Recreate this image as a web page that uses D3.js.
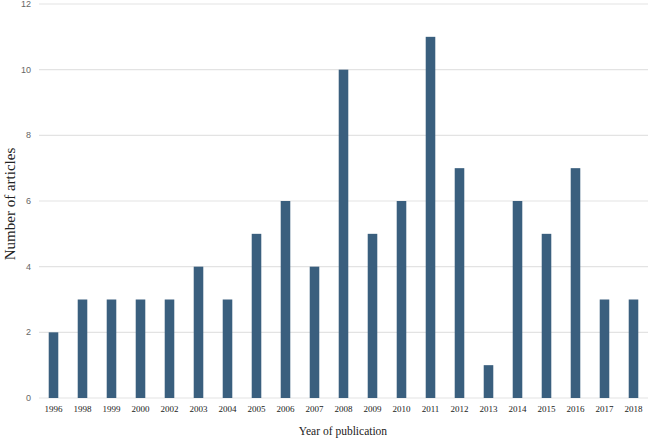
<!DOCTYPE html>
<html><head><meta charset="utf-8">
<script src="https://d3js.org/d3.v7.min.js"></script>
<style>body{margin:0;background:#fff}svg{display:block}</style>
</head><body>
<script>
const years = ["1996","1998","1999","2000","2002","2003","2004","2005","2006","2007","2008","2009","2010","2011","2012","2013","2014","2015","2016","2017","2018"];
const articles = [2,3,3,3,3,4,3,5,6,4,10,5,6,11,7,1,6,5,7,3,3];
const yTicks = [0,2,4,6,8,10,12];

const W = 650, H = 439;
const svg = d3.select("body").append("svg").attr("width", W).attr("height", H);

const x = d3.scaleBand().domain(years).range([39, 648]).paddingInner(0.67).paddingOuter(0.335);
const y = d3.scaleLinear().domain([0, 12]).range([398, 4]);

// gridlines
svg.append("g").selectAll("line").data(yTicks).join("line")
  .attr("x1", 39).attr("x2", 648)
  .attr("y1", d => y(d)).attr("y2", d => y(d))
  .attr("stroke", "#e3e3e3").attr("stroke-width", 1.2);

// y tick labels
svg.append("g").selectAll("text").data(yTicks).join("text")
  .attr("x", 31).attr("y", d => y(d)).attr("dy", "0.35em")
  .attr("text-anchor", "end")
  .attr("font-family", "Liberation Sans, Arial, sans-serif")
  .attr("font-size", 9).attr("fill", "#666")
  .text(d => d);

// bars
svg.append("g").selectAll("rect").data(years).join("rect")
  .attr("x", d => x(d)).attr("width", x.bandwidth())
  .attr("y", (d, i) => y(articles[i]))
  .attr("height", (d, i) => y(0) - y(articles[i]))
  .attr("fill", "#3a5f7e");

// x tick labels
svg.append("g").selectAll("text").data(years).join("text")
  .attr("x", d => x(d) + x.bandwidth() / 2).attr("y", 412)
  .attr("text-anchor", "middle")
  .attr("font-family", "Liberation Serif, Times New Roman, serif")
  .attr("font-size", 9).attr("fill", "#222")
  .text(d => d);

// axis titles
svg.append("text").attr("x", 343).attr("y", 435)
  .attr("text-anchor", "middle")
  .attr("font-family", "Liberation Serif, Times New Roman, serif")
  .attr("font-size", 11.5).attr("fill", "#222")
  .text("Year of publication");

svg.append("text").attr("transform", "translate(15,204) rotate(-90)")
  .attr("text-anchor", "middle")
  .attr("font-family", "Liberation Serif, Times New Roman, serif")
  .attr("font-size", 15).attr("fill", "#222")
  .text("Number of articles");
</script>
</body></html>
